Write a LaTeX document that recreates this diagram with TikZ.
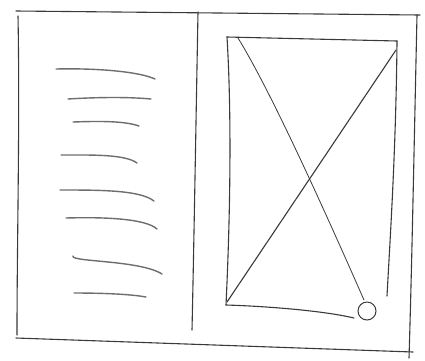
\documentclass[tikz,border=0pt]{standalone}
\usepackage{tikz}
\usetikzlibrary{calc}
\definecolor{SketchInk}{HTML}{3A3A3A}
\definecolor{SketchLead}{HTML}{6E6E6E}
\tikzset{
  pencil/.style={draw=SketchInk,line width=1.1pt,line cap=round,line join=round},
  scribble/.style={draw=SketchLead,line width=1.4pt,line cap=round},
  thinpencil/.style={draw=SketchInk,line width=0.8pt,line cap=round}
}

\begin{document}
\begin{tikzpicture}[x=1pt,y=-1pt]
        \useasboundingbox[fill=white] (0,0) rectangle (425,360);
        % outer frame
        \draw[pencil] (16,11) -- (420,15);
        \draw[pencil] (18,16) .. controls (20,120) and (17,240) .. (17,335);
        \draw[pencil] (417,15) .. controls (414,150) and (412,260) .. (409,358);
        \draw[pencil] (16,338) -- (413,352);
        % divider
        \draw[pencil] (198,12) .. controls (196,120) and (194,240) .. (192,330);
        % placeholder text lines
        \draw[scribble] (56,69) .. controls (100,68) and (140,72) .. (155,79);
        \draw[scribble] (68,99) .. controls (100,97) and (130,97) .. (151,99);
        \draw[scribble] (73,122) .. controls (100,121) and (125,121) .. (139,126);
        \draw[scribble] (61,155) .. controls (90,155) and (125,154) .. (137,163);
        \draw[scribble] (60,190) .. controls (100,190) and (140,190) .. (154,201);
        \draw[scribble] (66,218) .. controls (100,217) and (145,218) .. (157,229);
        \draw[scribble] (73,256) .. controls (70,262) and (140,260) .. (162,274);
        \draw[scribble] (74,293) .. controls (100,293) and (130,294) .. (146,297);
        % image placeholder
        \coordinate (imgNW) at (227,37);
        \coordinate (imgNE) at (397,41);
        \coordinate (imgSW) at (226,305);
        \coordinate (imgSE) at (354,318);
        \draw[pencil] (imgNW) -- (imgNE);
        \draw[pencil] (imgNW) .. controls (232,120) and (230,220) .. (imgSW);
        \draw[pencil] (imgNE) .. controls (396,150) and (390,240) .. (387,296);
        \draw[pencil] (imgSW) .. controls (260,306) and (320,310) .. (imgSE);
        % cross
        \draw[thinpencil] (238,38) .. controls (270,90) and (320,200) .. (364,300);
        \draw[pencil] (396,50) -- (227,302);
        % corner handle
        \node[draw=SketchInk,line width=1pt,circle,minimum size=18pt,inner sep=0pt] (grip) at (367,311) {};
\end{tikzpicture}
\end{document}
